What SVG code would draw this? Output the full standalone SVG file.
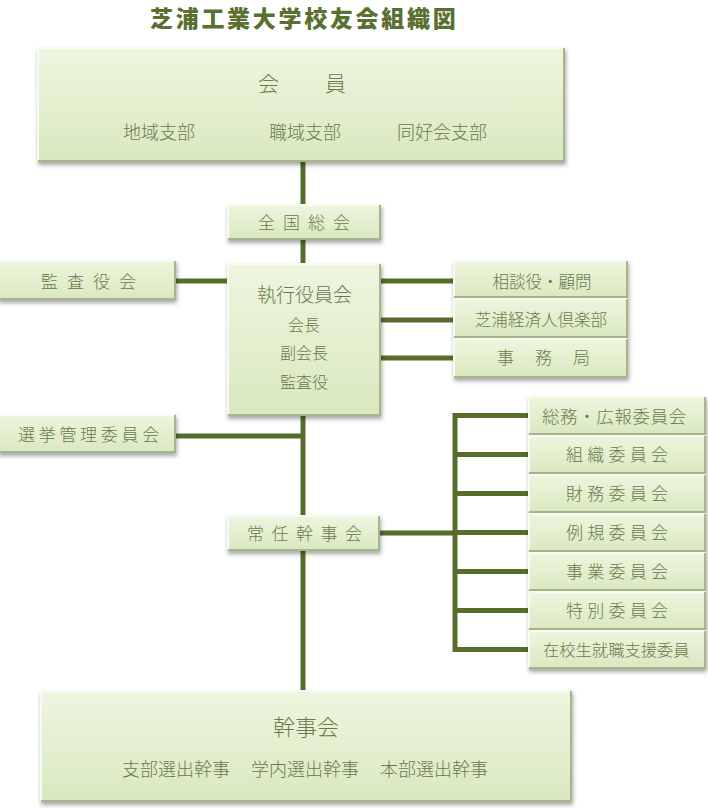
<svg xmlns="http://www.w3.org/2000/svg" width="708" height="810" viewBox="0 0 708 810">
<defs>
<linearGradient id="gr" x1="0" y1="0" x2="0" y2="1">
<stop offset="0" stop-color="#eef6e0"/>
<stop offset="1" stop-color="#d9e8bf"/>
</linearGradient>
<filter id="sh" x="-10%" y="-20%" width="120%" height="150%">
<feDropShadow dx="1" dy="3" stdDeviation="2" flood-color="#000" flood-opacity="0.35"/>
</filter>
<style>
.box{fill:url(#gr);filter:url(#sh)}
.hi{fill:none;stroke:#f8fcf0;stroke-width:2}
.lo{fill:none;stroke:#a6b68a;stroke-width:2}
.t{font-family:"Noto Sans CJK JP","Noto Sans CJK SC",sans-serif;font-weight:300;fill:#6a7a4c}
.c{text-anchor:middle}
.ln{stroke:#566d2c;stroke-width:5;fill:none}
.title{font-family:"Noto Sans CJK JP","Noto Sans CJK SC",sans-serif;font-weight:900;fill:#5a7030;font-size:23px;letter-spacing:2.7px}
</style>
</defs>
<rect width="708" height="810" fill="#fff"/>
<text class="title" x="150" y="27">芝浦工業大学校友会組織図</text>

<g id="connectors">
<path class="ln" d="M303,162V204"/>
<path class="ln" d="M303,240V263"/>
<path class="ln" d="M176,281H228"/>
<path class="ln" d="M381,281H454M381,320H454M381,358H454"/>
<path class="ln" d="M303,416V515"/>
<path class="ln" d="M176,436H303"/>
<path class="ln" d="M380,533H455"/>
<path class="ln" d="M455,413V652"/>
<path class="ln" d="M453,415.5H529M453,454.5H529M453,493.5H529M453,532.5H529M453,571.5H529M453,610.5H529M453,649.5H529"/>
<path class="ln" d="M303,551V690"/>
</g>

<g id="kaiin">
<rect class="box" x="37" y="47" width="528" height="115"/>
<path class="hi" d="M38,161V48H564"/><path class="lo" d="M564,48V161H38"/>
<text class="t" x="258" y="91" font-size="21">会</text>
<text class="t" x="325" y="91" font-size="21">員</text>
<text class="t" x="123" y="139" font-size="18">地域支部</text>
<text class="t" x="269" y="139" font-size="18">職域支部</text>
<text class="t" x="397" y="139" font-size="18">同好会支部</text>
</g>

<g id="zenkoku">
<rect class="box" x="227" y="204" width="154" height="36"/>
<path class="hi" d="M228,239V205H380"/><path class="lo" d="M380,205V239H228"/>
<text class="t" x="258" y="228.5" font-size="17" letter-spacing="8">全国総会</text>
</g>

<g id="kansayakukai">
<rect class="box" x="-2" y="260" width="178" height="40"/>
<path class="hi" d="M0,261H175"/><path class="lo" d="M175,261V299H0"/>
<text class="t" x="41" y="287.5" font-size="17" letter-spacing="9">監査役会</text>
</g>

<g id="shikko">
<rect class="box" x="227" y="263" width="154" height="153"/>
<path class="hi" d="M228,415V264H380"/><path class="lo" d="M380,264V415H228"/>
<text class="t" x="257" y="302" font-size="19">執行役員会</text>
<text class="t c" x="304" y="331" font-size="16">会長</text>
<text class="t c" x="304" y="359" font-size="16">副会長</text>
<text class="t c" x="304" y="388" font-size="16">監査役</text>
</g>

<g id="sodan">
<rect class="box" x="453" y="260" width="175" height="38"/>
<path class="hi" d="M454,297V261H627"/><path class="lo" d="M627,261V297H454"/>
<text class="t c" x="542" y="288" font-size="16.5">相談役・顧問</text>
</g>
<g id="keizaijin">
<rect class="box" x="453" y="298" width="175" height="40"/>
<path class="hi" d="M454,337V299H627"/><path class="lo" d="M627,299V337H454"/>
<text class="t c" x="541" y="326" font-size="16.5">芝浦経済人倶楽部</text>
</g>
<g id="jimukyoku">
<rect class="box" x="453" y="338" width="175" height="40"/>
<path class="hi" d="M454,377V339H627"/><path class="lo" d="M627,339V377H454"/>
<text class="t" x="497" y="364" font-size="17" letter-spacing="21">事務局</text>
</g>

<g id="senkyo">
<rect class="box" x="-2" y="414" width="178" height="39"/>
<path class="hi" d="M0,415H175"/><path class="lo" d="M175,415V452H0"/>
<text class="t" x="18" y="441" font-size="17" letter-spacing="3.7">選挙管理委員会</text>
</g>

<g id="jonin">
<rect class="box" x="227" y="515" width="153" height="36"/>
<path class="hi" d="M228,550V516H379"/><path class="lo" d="M379,516V550H228"/>
<text class="t" x="247" y="539.5" font-size="17" letter-spacing="7.5">常任幹事会</text>
</g>

<g id="iin1">
<rect class="box" x="528" y="396" width="178" height="39"/>
<path class="hi" d="M529,434V397H705"/><path class="lo" d="M705,397V434H529"/>
<text class="t" x="542" y="423" font-size="17.5" letter-spacing="0.6">総務・広報委員会</text>
</g>
<g id="iin2">
<rect class="box" x="528" y="435" width="178" height="39"/>
<path class="hi" d="M529,473V436H705"/><path class="lo" d="M705,436V473H529"/>
<text class="t" x="566" y="461" font-size="17" letter-spacing="4.25">組織委員会</text>
</g>
<g id="iin3">
<rect class="box" x="528" y="474" width="178" height="39"/>
<path class="hi" d="M529,512V475H705"/><path class="lo" d="M705,475V512H529"/>
<text class="t" x="566" y="500" font-size="17" letter-spacing="4.25">財務委員会</text>
</g>
<g id="iin4">
<rect class="box" x="528" y="513" width="178" height="39"/>
<path class="hi" d="M529,551V514H705"/><path class="lo" d="M705,514V551H529"/>
<text class="t" x="566" y="539" font-size="17" letter-spacing="4.25">例規委員会</text>
</g>
<g id="iin5">
<rect class="box" x="528" y="552" width="178" height="39"/>
<path class="hi" d="M529,590V553H705"/><path class="lo" d="M705,553V590H529"/>
<text class="t" x="566" y="578" font-size="17" letter-spacing="4.25">事業委員会</text>
</g>
<g id="iin6">
<rect class="box" x="528" y="591" width="178" height="39"/>
<path class="hi" d="M529,629V592H705"/><path class="lo" d="M705,592V629H529"/>
<text class="t" x="566" y="617" font-size="17" letter-spacing="4.25">特別委員会</text>
</g>
<g id="iin7">
<rect class="box" x="528" y="630" width="178" height="39"/>
<path class="hi" d="M529,668V631H705"/><path class="lo" d="M705,631V668H529"/>
<text class="t" x="543" y="656" font-size="16.3">在校生就職支援委員</text>
</g>

<g id="kanjikai">
<rect class="box" x="40" y="690" width="532" height="112"/>
<path class="hi" d="M41,801V691H571"/><path class="lo" d="M571,691V801H41"/>
<text class="t" x="273" y="735" font-size="22">幹事会</text>
<text class="t" x="122" y="776" font-size="18">支部選出幹事</text>
<text class="t" x="251" y="776" font-size="18">学内選出幹事</text>
<text class="t" x="380" y="776" font-size="18">本部選出幹事</text>
</g>
</svg>
